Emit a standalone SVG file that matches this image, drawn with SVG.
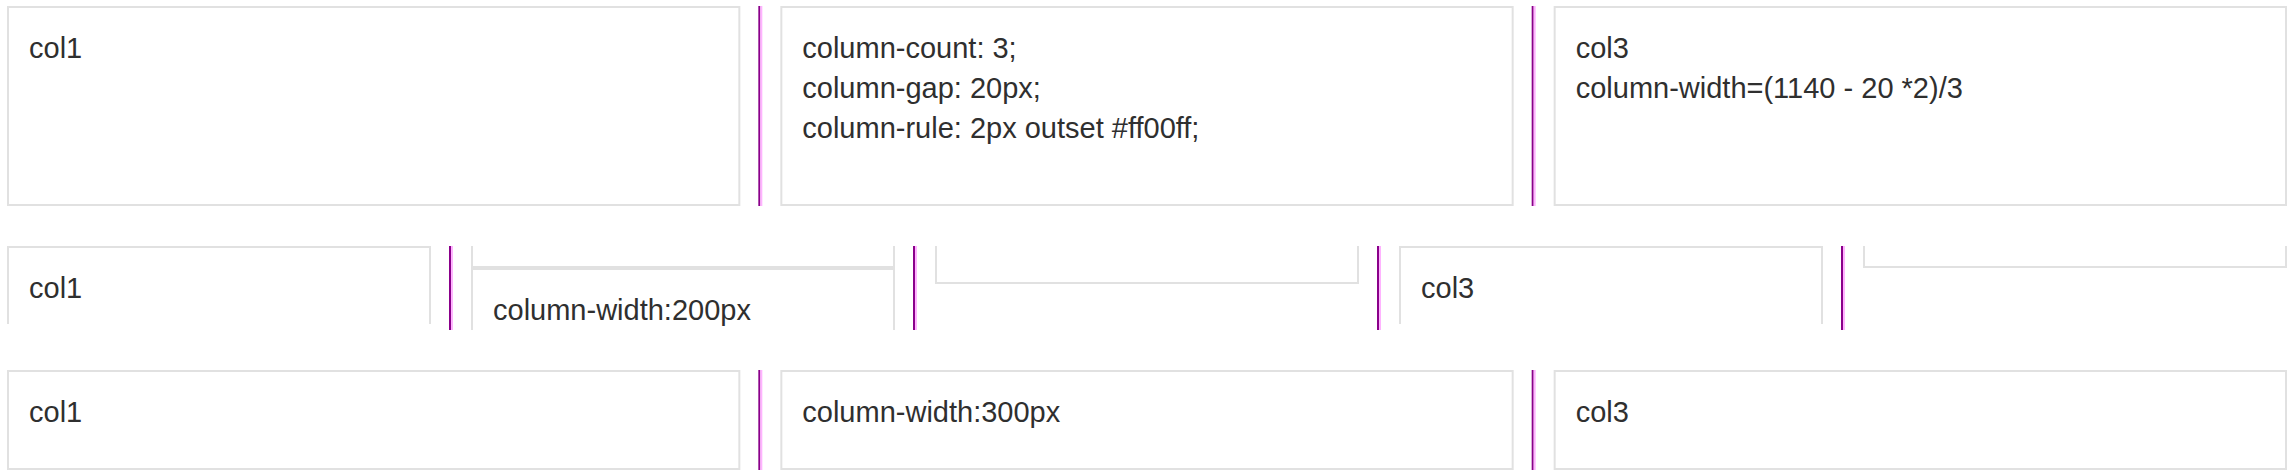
<svg xmlns="http://www.w3.org/2000/svg" width="2296" height="476" viewBox="0 0 2296 476">
  <style>
    .box { fill: #ffffff; stroke: #e1e1e1; stroke-width: 2; }
    .edge { fill: none; stroke: #e1e1e1; stroke-width: 2; }
    .band { fill: #e1e1e1; }
    .t { font-family: "Liberation Sans", Arial, Helvetica, sans-serif; font-size: 29px; fill: #2f2f2f; }
    .rd { fill: #8a008a; }
    .rl { fill: #ffb3ff; }
  </style>
  <rect width="2296" height="476" fill="#ffffff"/>

  <!-- Row 1: column-count: 3 -->
  <g id="r1-col1">
    <rect class="box" x="8" y="7" width="731.33" height="198"/>
    <text class="t" x="29" y="58">col1</text>
  </g>
  <g id="r1-col2">
    <rect class="box" x="781.33" y="7" width="731.33" height="198"/>
    <text class="t" x="802.3" y="58">column-count: 3;</text>
    <text class="t" x="802.3" y="98">column-gap: 20px;</text>
    <text class="t" x="802.3" y="138">column-rule: 2px outset #ff00ff;</text>
  </g>
  <g id="r1-col3">
    <rect class="box" x="1554.67" y="7" width="731.33" height="198"/>
    <text class="t" x="1575.7" y="58">col3</text>
    <text class="t" x="1575.7" y="98">column-width=(1140 - 20 *2)/3</text>
  </g>

  <!-- Row 2: column-width: 200px (fragmented boxes) -->
  <g id="r2-col1">
    <path class="edge" d="M8,324 V247 H430 V324"/>
    <text class="t" x="29" y="298">col1</text>
  </g>
  <g id="r2-col2">
    <path class="edge" d="M472,246 V330 M894,246 V330"/>
    <rect class="band" x="471" y="266" width="424" height="4"/>
    <text class="t" x="493" y="320">column-width:200px</text>
  </g>
  <g id="r2-col2-cont">
    <path class="edge" d="M936,246 V283 H1358 V246"/>
  </g>
  <g id="r2-col3">
    <path class="edge" d="M1400,324 V247 H1822 V324"/>
    <text class="t" x="1421" y="298">col3</text>
  </g>
  <g id="r2-col3-cont">
    <path class="edge" d="M1864,246 V267 H2286 V246"/>
  </g>

  <!-- Row 3: column-width: 300px -->
  <g id="r3-col1">
    <rect class="box" x="8" y="371" width="731.33" height="98"/>
    <text class="t" x="29" y="422">col1</text>
  </g>
  <g id="r3-col2">
    <rect class="box" x="781.33" y="371" width="731.33" height="98"/>
    <text class="t" x="802.3" y="422">column-width:300px</text>
  </g>
  <g id="r3-col3">
    <rect class="box" x="1554.67" y="371" width="731.33" height="98"/>
    <text class="t" x="1575.7" y="422">col3</text>
  </g>

  <!-- Column rules (2px outset #ff00ff) -->
  <g id="connectors">
    <rect class="rd" x="758.33" y="6" width="2" height="200"/>
    <rect class="rl" x="760.33" y="6" width="2" height="200"/>
    <rect class="rd" x="1531.67" y="6" width="2" height="200"/>
    <rect class="rl" x="1533.67" y="6" width="2" height="200"/>

    <rect class="rd" x="449" y="246" width="2" height="84"/>
    <rect class="rl" x="451" y="246" width="2" height="84"/>
    <rect class="rd" x="913" y="246" width="2" height="84"/>
    <rect class="rl" x="915" y="246" width="2" height="84"/>
    <rect class="rd" x="1377" y="246" width="2" height="84"/>
    <rect class="rl" x="1379" y="246" width="2" height="84"/>
    <rect class="rd" x="1841" y="246" width="2" height="84"/>
    <rect class="rl" x="1843" y="246" width="2" height="84"/>

    <rect class="rd" x="758.33" y="370" width="2" height="100"/>
    <rect class="rl" x="760.33" y="370" width="2" height="100"/>
    <rect class="rd" x="1531.67" y="370" width="2" height="100"/>
    <rect class="rl" x="1533.67" y="370" width="2" height="100"/>
  </g>
</svg>
